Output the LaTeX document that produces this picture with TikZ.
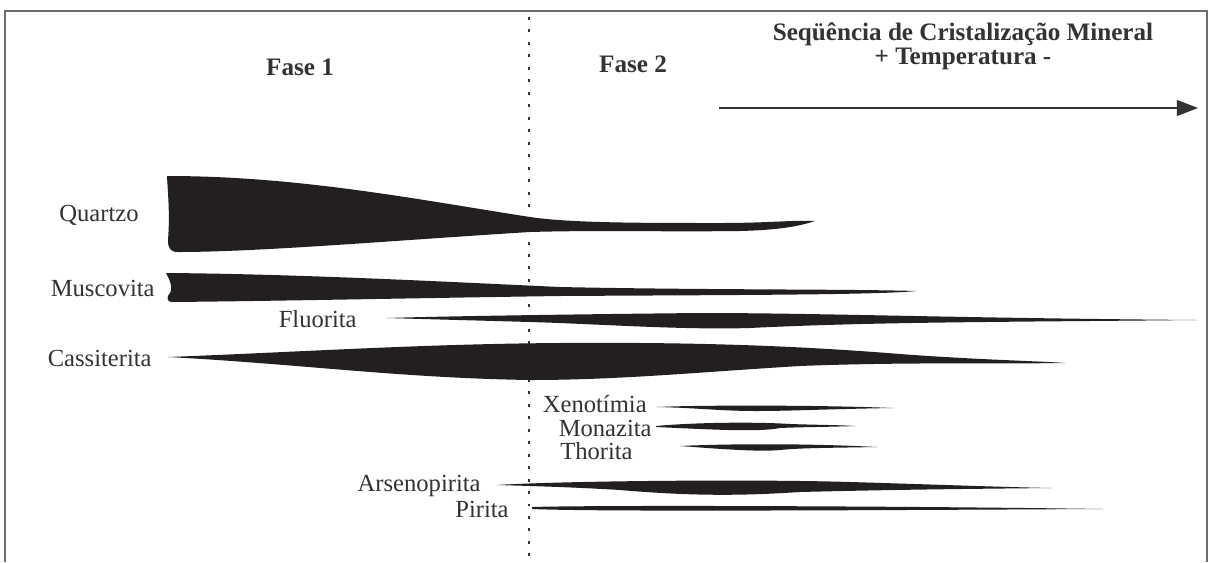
\documentclass[tikz,border=0pt]{standalone}
\usepackage{fontspec}
\setmainfont{Liberation Serif}
\usepackage{xcolor}
\usepackage{tikz}
\usetikzlibrary{arrows.meta,positioning}
\definecolor{mineralink}{HTML}{231F20}
\definecolor{labelgray}{HTML}{333333}
\definecolor{framegray}{HTML}{6D6D6D}
\tikzset{
  mineral/.style={fill=mineralink,draw=none},
  lbl/.style={anchor=east,inner sep=0pt,text=labelgray,font=\fontsize{14pt}{16pt}\selectfont},
  phase/.style={inner sep=0pt,text=labelgray,font=\fontsize{14.3pt}{16pt}\selectfont\bfseries},
  divider/.style={labelgray,line width=0.85pt,dash pattern=on 1.7pt off 5.4pt},
  seqarr/.style={-{Triangle[length=12pt,width=9pt]},labelgray,line width=0.8pt},
}
\begin{document}
\begin{tikzpicture}[x=0.02cm,y=-0.02cm,
          frame/.style={draw=framegray,line width=1pt}]
        \useasboundingbox (0,0) rectangle (1215,562);
        \fill[white] (0,0) rectangle (1215,562);
        \draw[frame] (5,562) -- (5,11) -- (1207,11) -- (1207,562);
        \coordinate (divTop) at (529,17);
        \coordinate (divBot) at (529,562);
        \draw[divider] (divTop) -- (divBot);
        \node[phase] (fase1) at (300,67) {Fase 1};
        \node[phase] (fase2) at (633,64) {Fase 2};
        \node[phase,align=center,font=\fontsize{14.3pt}{13.6pt}\selectfont\bfseries] (seqtitle) at (963,46)
             {Seqüência de Cristalização Mineral\\+ Temperatura -};
        \coordinate (arrS) at (719,108);
        \coordinate (arrE) at (1198,108);
        \draw[seqarr] (arrS) -- (arrE);
        \node[lbl] (quartzo)   at (139,215) {Quartzo};
        \node[lbl] (muscovita) at (155,288) {Muscovita};
        \node[lbl] (fluorita)  at (357,319) {Fluorita};
        \node[lbl] (cassit)    at (152,358) {Cassiterita};
        \node[lbl] (xenot)     at (647,404) {Xenotímia};
        \node[lbl] (monaz)     at (652,428) {Monazita};
        \node[lbl] (thorita)   at (633,451) {Thorita};
        \node[lbl] (arseno)    at (481,486) {Arsenopirita};
        \node[lbl] (pirita)    at (509,509) {Pirita};
        \fill[mineral] (167,176) .. controls (300,176) and (420,200) .. (530,217) .. controls (570,223) and (640,223) .. (720,223)
              .. controls (770,223) and (790,220) .. (815,221) .. controls (800,226) and (780,230) .. (740,231)
              .. controls (660,232) and (600,230) .. (530,232) .. controls (400,240) and (260,252) .. (178,252)
              .. controls (170,252) and (168,248) .. (168,240) .. controls (170,215) and (168,195) .. (167,176) -- cycle;
        \fill[mineral] (166,273) .. controls (300,274) and (450,282) .. (560,287) .. controls (700,290) and (850,289) .. (916,291)
              .. controls (880,295) and (720,295) .. (560,296) .. controls (420,298) and (280,301) .. (172,302)
              .. controls (168,302) and (167,299) .. (168,296) .. controls (172,292) and (173,285) .. (166,273) -- cycle;
        \fill[mineral] (387,318) .. controls (450,316) and (600,314) .. (700,313) .. controls (820,313) and (950,318) .. (1197,320)
              .. controls (1000,322) and (870,322) .. (750,328) .. controls (680,330) and (600,324) .. (530,322)
              .. controls (460,320) and (420,319) .. (387,318) -- cycle;
        \fill[mineral] (168,357) .. controls (300,352) and (420,344) .. (560,343) .. controls (700,342) and (800,346) .. (900,354)
              .. controls (980,360) and (1040,361) .. (1065,363) .. controls (1000,364) and (900,362) .. (800,366)
              .. controls (700,372) and (620,380) .. (530,380) .. controls (400,378) and (300,364) .. (168,357) -- cycle;
        \fill[mineral] (657,407) .. controls (700,405) and (820,405) .. (893,408) .. controls (830,409) and (790,411) .. (757,411)
              .. controls (720,411) and (700,408) .. (657,407) -- cycle;
        \fill[mineral] (656,426) .. controls (700,422) and (760,422) .. (790,424) .. controls (820,425) and (840,425) .. (855,426)
              .. controls (830,427) and (800,427) .. (780,428) .. controls (760,432) and (720,430) .. (656,427) -- cycle;
        \fill[mineral] (680,446) .. controls (720,444) and (800,443) .. (877,447) .. controls (820,448) and (800,448) .. (780,450)
              .. controls (760,452) and (720,449) .. (680,446) -- cycle;
        \fill[mineral] (497,485) .. controls (560,481) and (750,479) .. (850,482) .. controls (950,485) and (1000,487) .. (1052,488)
              .. controls (950,489) and (880,490) .. (800,492) .. controls (740,496) and (690,496) .. (620,490)
              .. controls (570,487) and (530,486) .. (497,485) -- cycle;
        \fill[mineral] (532,507) .. controls (600,505) and (900,506) .. (1103,509) .. controls (900,510) and (600,512) .. (532,509) -- cycle;
      \end{tikzpicture}
\end{document}
